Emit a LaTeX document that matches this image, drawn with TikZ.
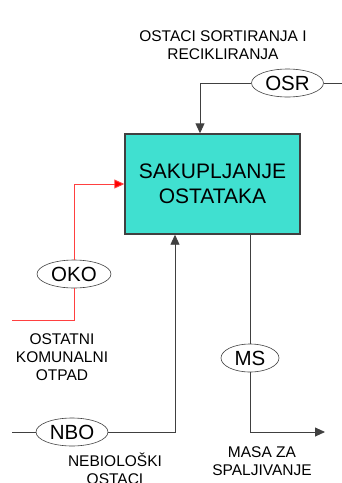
\documentclass[tikz,border=0pt]{standalone}
\usepackage{fontspec}
\setmainfont{Liberation Sans}
\usetikzlibrary{arrows.meta}
\definecolor{turq}{HTML}{40E0D0}
\definecolor{lgray}{HTML}{404040}
\definecolor{lred}{HTML}{FF4040}
\tikzset{
  mainbox/.style={draw=lgray,line width=1.4pt,fill=turq,minimum width=175pt,minimum height=100pt,inner sep=0pt,align=center,font=\fontsize{21}{25}\selectfont},
  tag/.style={ellipse,draw=lgray,line width=0.6pt,fill=white,minimum height=28pt,inner sep=0pt,font=\fontsize{20.5}{24}\selectfont},
  lbl/.style={align=center,inner sep=0pt,font=\fontsize{15.5}{18}\selectfont},
  conn/.style={draw=lgray,line width=0.9pt},
  redconn/.style={draw=lred,line width=0.9pt},
  arr/.style={-{Triangle[length=10pt,width=9pt]}},
}
\usetikzlibrary{shapes.geometric}
\begin{document}
\begin{tikzpicture}[x=1pt,y=-1pt]
\useasboundingbox (0,0) rectangle (342,483);
\node[mainbox] (box) at (212.5,184) {SAKUPLJANJE\\OSTATAKA};
\node[tag,minimum width=72pt] (osr) at (287.5,83) {OSR};
\node[tag,minimum width=74pt] (oko) at (74,274) {OKO};
\node[tag,minimum width=72pt] (nbo) at (72,432) {NBO};
\node[tag,minimum width=58pt] (ms) at (250,358) {MS};
\coordinate (osrE) at (342,83);
\coordinate (okoS) at (12,320);
\coordinate (nboS) at (12,432);
\coordinate (msE) at (325,432);
\node[lbl] (t1) at (223,45) {OSTACI SORTIRANJA I\\RECIKLIRANJA};
\node[lbl] (t2) at (62,357) {OSTATNI\\KOMUNALNI\\OTPAD};
\node[lbl] (t3) at (115,469) {NEBIOLOŠKI\\OSTACI};
\node[lbl] (t4) at (262,461) {MASA ZA\\SPALJIVANJE};
\draw[conn] (osrE) -- (osr.east);
\draw[conn,arr] (osr.west) -| ([xshift=-12.5pt]box.north);
\draw[redconn] (okoS) -| (oko.south);
\draw[redconn,-{Triangle[length=10pt,width=9pt,fill=red]}] (oko.north) |- (box.west);
\draw[conn] (nboS) -- (nbo.west);
\draw[conn,arr] (nbo.east) -| ([xshift=-37.5pt]box.south);
\draw[conn] ([xshift=37.5pt]box.south) -- (ms.north);
\draw[conn,arr] (ms.south) |- (msE);
\end{tikzpicture}
\end{document}
